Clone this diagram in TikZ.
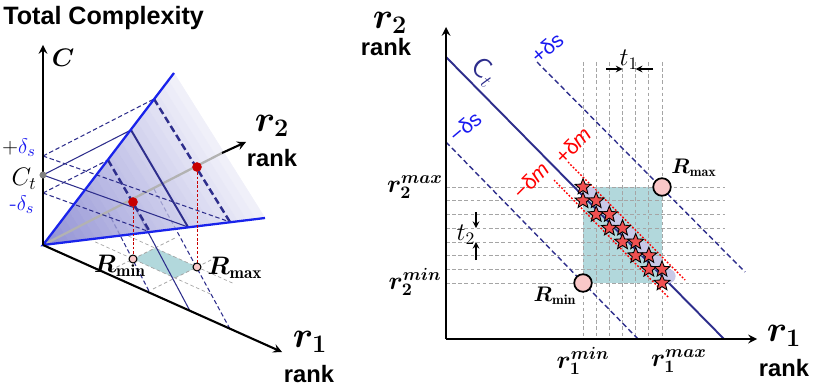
\documentclass[tikz,border=0pt]{standalone}
\usepackage{amsmath,bm}
\usepackage{fontspec}
\newfontfamily\arialfont{Liberation Sans}
\usetikzlibrary{shapes.geometric, arrows, positioning, calc}

\definecolor{navyline}{RGB}{46,46,140}
\definecolor{edgeblue}{RGB}{25,35,235}
\definecolor{dblue}{RGB}{25,25,240}
\definecolor{boxteal}{RGB}{178,216,220}
\definecolor{dotpink}{RGB}{250,200,200}
\definecolor{starred}{RGB}{240,80,80}
\definecolor{dotred}{RGB}{200,0,0}
\definecolor{lavender}{RGB}{200,200,232}
\definecolor{gridgray}{RGB}{165,165,165}
\definecolor{planedark}{RGB}{145,145,212}
\definecolor{planelight}{RGB}{244,244,251}

\begin{document}
\begin{tikzpicture}[x=0.02cm, y=-0.02cm]
        \tikzstyle{axis} = [black, line width=1.2pt, ->, >=stealth]
        \tikzstyle{thinsolid} = [navyline, line width=0.6pt]
        \tikzstyle{thindash} = [navyline, line width=0.6pt, dash pattern=on 2.5pt off 1.5pt]
        \tikzstyle{contsolid} = [navyline, line width=1.1pt]
        \tikzstyle{contdash} = [navyline, line width=1.4pt, dash pattern=on 4pt off 2pt]
        \tikzstyle{gridline} = [gridgray, line width=0.4pt, dash pattern=on 2pt off 1.5pt]
        \tikzstyle{reddot} = [circle, fill=dotred, inner sep=0, minimum size=5.5pt]
        \tikzstyle{floordot} = [circle, draw=black, fill=dotpink, line width=0.6pt, inner sep=0, minimum size=4.5pt]
        \tikzstyle{rcircle} = [circle, draw=black, fill=dotpink, line width=1pt, inner sep=0, minimum size=10pt]
        \tikzstyle{starmark} = [star, star points=5, star point ratio=2.3, draw=black, fill=starred, line width=0.5pt, inner sep=0, minimum size=9.5pt]
        \tikzstyle{lavdot} = [circle, fill=lavender, inner sep=0, minimum size=8pt]
        \tikzstyle{ranklabel} = [font=\arialfont\bfseries\fontsize{13.5}{14}\selectfont]
        \tikzstyle{axlabel} = [font=\fontsize{21}{21}\selectfont]
        \tikzstyle{boundlabel} = [font=\fontsize{14}{14}\selectfont]
        \tikzstyle{deltalabel} = [font=\arialfont\fontsize{12}{12}\selectfont]
        \tikzstyle{smallarrow} = [black, line width=0.7pt, ->, >=stealth]

        \useasboundingbox (0,0) rectangle (813,388);

        % left panel
        \coordinate (O) at (43,245);
        \coordinate (ctop) at (43,45);
        \coordinate (r1end) at (282,352);
        \coordinate (r2mid) at (222,153);
        \coordinate (r2end) at (246,142);
        \coordinate (pltop) at (174,73);
        \coordinate (plright) at (265,218);
        \coordinate (cp) at (43,156);
        \coordinate (ct) at (43,175);
        \coordinate (cm) at (43,193);
        \coordinate (lp) at (154,99);
        \coordinate (lt) at (131,130);
        \coordinate (lm) at (108,160);
        \coordinate (bp) at (230,222);
        \coordinate (bt) at (188,227);
        \coordinate (bm) at (150,232);
        \coordinate (fp2) at (154,189);
        \coordinate (ft2) at (131,200);
        \coordinate (fm2) at (108,212);
        \coordinate (fp1) at (230,329);
        \coordinate (ft1) at (190,311);
        \coordinate (fm1) at (150,293);
        \coordinate (fa) at (133,259);
        \coordinate (fb) at (155,248);
        \coordinate (fc) at (197,267);
        \coordinate (fd) at (175,278);

        \fill[boxteal] (fa) -- (fb) -- (fc) -- (fd) -- cycle;
        \draw[gridline] ($(fa)!-0.9!(fd)$) -- ($(fa)!1.9!(fd)$);
        \draw[gridline] ($(fb)!-0.9!(fc)$) -- ($(fb)!1.9!(fc)$);
        \draw[gridline] ($(fa)!-1!(fb)$) -- ($(fa)!2!(fb)$);
        \draw[gridline] ($(fd)!-1!(fc)$) -- ($(fd)!2!(fc)$);
        \draw[thindash] (fm2) -- (fm1);
        \draw[thinsolid] (ft2) -- (ft1);
        \draw[thindash] (fp2) -- (fp1);

        \foreach \k in {0,...,24} {
            \pgfmathsetmacro{\mixv}{100-4*\k}
            \fill[planedark!\mixv!planelight, draw=planedark!\mixv!planelight, line width=0.3pt]
                ($(O)!{\k/25}!(pltop)$) -- ($(O)!{(\k+1)/25}!(pltop)$) -- ($(O)!{(\k+1)/25}!(plright)$) -- ($(O)!{\k/25}!(plright)$) -- cycle;
        }
        \begin{scope}
            \clip (O) -- (pltop) -- (plright) -- cycle;
            \draw[thindash, opacity=0.3] (fm2) -- (fm1);
            \draw[thinsolid, opacity=0.3] (ft2) -- (ft1);
            \draw[thindash, opacity=0.3] (fp2) -- (fp1);
            \draw[gridline, opacity=0.5] ($(fa)!-1!(fb)$) -- ($(fa)!2!(fb)$);
        \end{scope}
        \draw[gray!60, line width=1.3pt] (O) -- (r2mid);
        \draw[axis] (r2mid) -- (r2end);

        \draw[thindash] (cp) -- (lp);
        \draw[thinsolid] (ct) -- (lt);
        \draw[thindash] (cm) -- (lm);
        \draw[thindash] (cp) -- (bp);
        \draw[thinsolid] (ct) -- (bt);
        \draw[thindash] (cm) -- (bm);
        \draw[contdash] (lm) -- (bm);
        \draw[contsolid] (lt) -- (bt);
        \draw[contdash] (lp) -- (bp);
        \draw[edgeblue, line width=1.3pt] (pltop) -- (O) -- (plright);

        \draw[axis] (O) -- (ctop);
        \draw[axis] (O) -- (r1end);
        \node[circle, fill=gray, inner sep=0, minimum size=4pt] (ctdot) at (ct) {};

        \node[reddot] (hmin) at (133,202) {};
        \node[reddot] (hmax) at (197,167) {};
        \draw[dotred, line width=0.5pt, dash pattern=on 1.5pt off 1pt] (hmin) -- (fa);
        \draw[dotred, line width=0.5pt, dash pattern=on 1.5pt off 1pt] (hmax) -- (fc);
        \node[floordot] (rminpt) at (fa) {};
        \node[floordot] (rmaxpt) at (fc) {};

        \node[anchor=base west, inner sep=0, font=\arialfont\bfseries\fontsize{14.3}{15}\selectfont] (title) at (3,25) {Total Complexity};
        \node[font=\fontsize{15}{15}\selectfont] (clabel) at (63,58) {$\bm{C}$};
        \node[font=\fontsize{14}{14}\selectfont] (ctlabel) at (24,179) {$C_t$};
        \node[font=\fontsize{12.5}{12.5}\selectfont] (plabel) at (19,148) {$+\textcolor{dblue}{\delta_s}$};
        \node[font=\fontsize{12.5}{12.5}\selectfont, dblue] (mlabel) at (22,205) {-$\delta_s$};
        \node[axlabel] (r2left) at (272,126) {$\bm{r_2}$};
        \node[ranklabel] (r2lrank) at (272,158) {rank};
        \node[axlabel] (r1left) at (310,342) {$\bm{r_1}$};
        \node[ranklabel] (r1lrank) at (309,374) {rank};
        \node[boundlabel] (rminl) at (120,266) {$\bm{R}_{\mathbf{min}}$};
        \node[boundlabel] (rmaxl) at (235,268) {$\bm{R}_{\mathbf{max}}$};

        % right panel
        \coordinate (O2) at (446,339);
        \fill[boxteal] (583,187) rectangle (662,283);
        \foreach \i in {0,...,6}
            \draw[gridline] (583+13.1667*\i,62) -- (583+13.1667*\i,339);
        \foreach \j in {0,...,7}
            \draw[gridline] (446,187+13.714*\j) -- (725,187+13.714*\j);

        \coordinate (ct1) at (446,57);
        \coordinate (ct2) at (724,339);
        \coordinate (ms1) at (446,142);
        \coordinate (ms2) at (638,339);
        \coordinate (ps1) at (537,62);
        \coordinate (ps2) at (745,272);
        \coordinate (pm1) at (568,162);
        \coordinate (pm2) at (685,280);
        \coordinate (mm1) at (554,180);
        \coordinate (mm2) at (668,297);

        \draw[navyline, line width=1.1pt] (ct1) -- (ct2);
        \draw[navyline, line width=0.8pt, dash pattern=on 3pt off 1.8pt] (ms1) -- (ms2);
        \draw[navyline, line width=0.8pt, dash pattern=on 3pt off 1.8pt] (ps1) -- (ps2);
        \draw[red, line width=0.8pt, dash pattern=on 1pt off 1pt] (pm1) -- (pm2);
        \draw[red, line width=0.8pt, dash pattern=on 1pt off 1pt] (mm1) -- (mm2);

        \draw[axis] (O2) -- (446,27);
        \draw[axis] (O2) -- (757,339);

        \foreach \i in {0,...,6}
            \node[lavdot] at (589.6+13.1667*\i,193.9+13.714*\i) {};
        \foreach \i in {0,...,6} {
            \node[starmark] (sa\i) at (583+13.1667*\i,187+13.714*\i) {};
            \node[starmark] (sb\i) at (583+13.1667*\i,200.7+13.714*\i) {};
        }

        \node[rcircle] (rmax) at (662,187) {};
        \node[rcircle] (rmin) at (583,283) {};

        \draw[smallarrow] (606,69) -- (622.5,69);
        \draw[smallarrow] (653,69) -- (635.7,69);
        \draw[smallarrow] (476,212) -- (476,228.1);
        \draw[smallarrow] (476,260) -- (476,241.9);
        \node[boundlabel] (t1label) at (629,60) {$t_1$};
        \node[boundlabel] (t2label) at (466,235) {$t_2$};

        \node[axlabel] (r2right) at (390,23) {$\bm{r_2}$};
        \node[ranklabel] (r2rrank) at (386,47) {rank};
        \node[axlabel] (r1right) at (784,336) {$\bm{r_1}$};
        \node[ranklabel] (r1rrank) at (784,368) {rank};
        \node[navyline, rotate=-40, font=\fontsize{16}{16}\selectfont] (ctright) at (484,72) {$\mathsf{C}_t$};
        \node[deltalabel, dblue, rotate=40] (psl) at (547,48) {+δs};
        \node[deltalabel, dblue, rotate=40] (msl) at (465,127) {−δs};
        \node[deltalabel, red, rotate=45] (pml) at (573,145) {+δ\textit{m}};
        \node[deltalabel, red, rotate=45] (mml) at (531,180) {−δ\textit{m}};
        \node[font=\fontsize{12}{12}\selectfont] (rmaxr) at (694,168) {$\bm{R}_{\mathbf{max}}$};
        \node[font=\fontsize{12}{12}\selectfont] (rminr) at (555,296) {$\bm{R}_{\mathbf{min}}$};
        \node[boundlabel] (r2max) at (415,187) {$\bm{r_2^{max}}$};
        \node[boundlabel] (r2min) at (415,282) {$\bm{r_2^{min}}$};
        \node[boundlabel] (r1min) at (583,361) {$\bm{r_1^{min}}$};
        \node[boundlabel] (r1max) at (679,361) {$\bm{r_1^{max}}$};
    \end{tikzpicture}
\end{document}
